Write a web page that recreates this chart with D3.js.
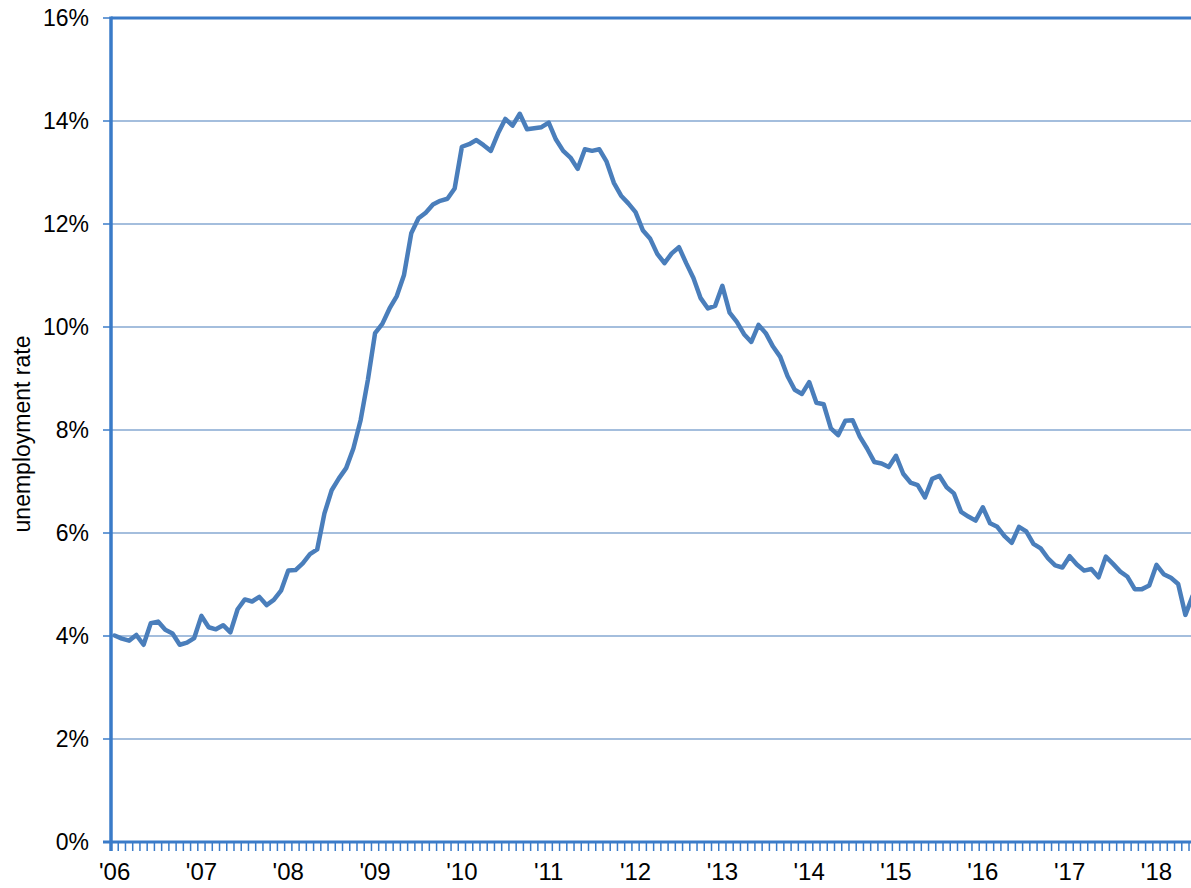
<!DOCTYPE html>
<html>
<head>
<meta charset="utf-8">
<script src="https://cdn.jsdelivr.net/npm/d3@7"></script>
<style>
  body { margin: 0; background: #fff; }
  svg { display: block; font-family: "Liberation Sans", Arial, sans-serif; }
  .grid line { stroke: #4a7ebb; stroke-width: 1.2px; }
  .axis line, .axis path { stroke: #3a7bc8; }
  .tick-label { fill: #000; }
</style>
</head>
<body>
<div id="chart"></div>
<script>
// monthly unemployment rate, Jan 2006 .. Jun 2018 (%)
var rates = [
  4.01, 3.95, 3.91, 4.02, 3.83, 4.25, 4.28, 4.12, 4.05, 3.83, 3.87, 3.96,
  4.39, 4.17, 4.13, 4.21, 4.07, 4.52, 4.71, 4.67, 4.76, 4.60, 4.70, 4.88,
  5.27, 5.28, 5.41, 5.59, 5.68, 6.38, 6.83, 7.06, 7.26, 7.64, 8.19, 8.97,
  9.88, 10.06, 10.36, 10.60, 11.01, 11.82, 12.11, 12.22, 12.38, 12.45, 12.49, 12.69,
  13.50, 13.55, 13.63, 13.53, 13.42, 13.76, 14.04, 13.91, 14.14, 13.84, 13.86, 13.88,
  13.97, 13.64, 13.42, 13.29, 13.07, 13.45, 13.42, 13.45, 13.21, 12.80, 12.55, 12.40,
  12.23, 11.88, 11.72, 11.42, 11.24, 11.43, 11.55, 11.24, 10.95, 10.56, 10.36, 10.41,
  10.80, 10.28, 10.10, 9.86, 9.71, 10.04, 9.88, 9.62, 9.42, 9.05, 8.78, 8.70,
  8.93, 8.53, 8.50, 8.03, 7.90, 8.18, 8.19, 7.87, 7.64, 7.38, 7.35, 7.28,
  7.50, 7.15, 6.98, 6.93, 6.69, 7.05, 7.11, 6.89, 6.77, 6.41, 6.32, 6.24,
  6.50, 6.19, 6.12, 5.94, 5.81, 6.12, 6.03, 5.79, 5.70, 5.51, 5.37, 5.33,
  5.55, 5.39, 5.27, 5.30, 5.14, 5.54, 5.40, 5.25, 5.15, 4.91, 4.91, 4.98,
  5.38, 5.20, 5.13, 5.01, 4.41, 4.78
];
var yearLabels = ["'06", "'07", "'08", "'09", "'10", "'11", "'12", "'13", "'14", "'15", "'16", "'17", "'18"];
var yTicks = [0, 2, 4, 6, 8, 10, 12, 14, 16];

var W = 1191, H = 888;
var margin = {top: 18, left: 111, bottom: 46},
  monthW = 7.235,
  months = 150,
  plotH = H - margin.top - margin.bottom;

var x = d3.scaleLinear().domain([0, months]).range([margin.left, margin.left + months * monthW]);
var y = d3.scaleLinear().domain([0, 16]).range([margin.top + plotH, margin.top]);

var svg = d3.select("#chart").append("svg")
  .attr("width", W)
  .attr("height", H);

// horizontal gridlines
svg.append("g").attr("class", "grid")
  .selectAll("line")
  .data(yTicks.slice(1, -1))
  .enter().append("line")
  .attr("x1", x(0)).attr("x2", x(months))
  .attr("y1", function(d) { return y(d); })
  .attr("y2", function(d) { return y(d); });

// y axis: outward ticks + labels
var yAxis = svg.append("g").attr("class", "axis");
yAxis.selectAll("line.yt")
  .data(yTicks)
  .enter().append("line")
  .attr("class", "yt")
  .attr("x1", x(0) - 8).attr("x2", x(0))
  .attr("y1", function(d) { return y(d); })
  .attr("y2", function(d) { return y(d); })
  .style("stroke-width", 1.5);
yAxis.selectAll("text")
  .data(yTicks)
  .enter().append("text")
  .attr("class", "tick-label")
  .attr("x", x(0) - 22)
  .attr("y", function(d) { return y(d); })
  .attr("dy", "0.35em")
  .attr("text-anchor", "end")
  .style("font-size", "23px")
  .text(function(d) { return d + "%"; });

// x axis: monthly ticks
var xAxis = svg.append("g").attr("class", "axis");
xAxis.selectAll("line.xt")
  .data(d3.range(0, months + 1))
  .enter().append("line")
  .attr("class", "xt")
  .attr("x1", function(d) { return x(d); })
  .attr("x2", function(d) { return x(d); })
  .attr("y1", y(0))
  .attr("y2", y(0) + 9)
  .style("stroke-width", 1.5);
xAxis.selectAll("text")
  .data(yearLabels)
  .enter().append("text")
  .attr("class", "tick-label")
  .attr("x", function(d, i) { return x(i * 12 + 0.5); })
  .attr("y", y(0) + 38)
  .attr("text-anchor", "middle")
  .style("font-size", "24px")
  .text(function(d) { return d; });

// the data line
var line = d3.line()
  .x(function(d, i) { return x(i + 0.5); })
  .y(function(d) { return y(d); });

svg.append("path")
  .datum(rates)
  .attr("d", line)
  .attr("fill", "none")
  .attr("stroke", "#4a7ebb")
  .attr("stroke-width", 4.5)
  .attr("stroke-linejoin", "round")
  .attr("stroke-linecap", "round");

// frame: top border, left and bottom axis lines
svg.append("line")
  .attr("x1", x(0)).attr("x2", x(months))
  .attr("y1", y(16)).attr("y2", y(16))
  .attr("stroke", "#3a7bc8").attr("stroke-width", 3);
svg.append("line")
  .attr("x1", x(0) - 8).attr("x2", x(months))
  .attr("y1", y(0)).attr("y2", y(0))
  .attr("stroke", "#3a7bc8").attr("stroke-width", 3);
svg.append("line")
  .attr("x1", x(0)).attr("x2", x(0))
  .attr("y1", y(16) - 1.5).attr("y2", y(0) + 9)
  .attr("stroke", "#3a7bc8").attr("stroke-width", 3.5);

// y axis title
svg.append("text")
  .attr("transform", "translate(30," + 434 + ") rotate(-90)")
  .attr("text-anchor", "middle")
  .style("font-size", "23px")
  .text("unemployment rate");
</script>
</body>
</html>
